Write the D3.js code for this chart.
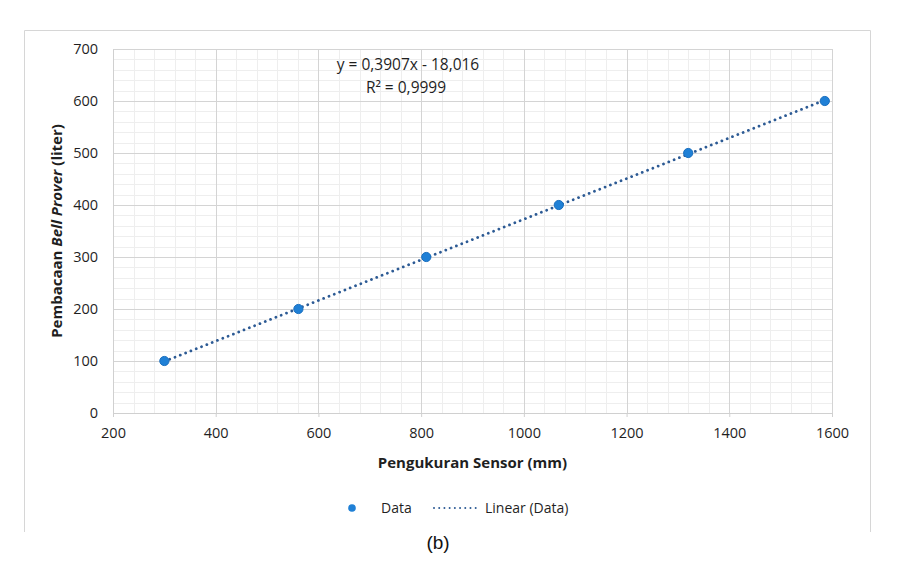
<!DOCTYPE html>
<html>
<head>
<meta charset="utf-8">
<script src="https://cdn.jsdelivr.net/npm/d3@7"></script>
<style>
  body { margin: 0; background: #fff; }
  svg { display: block; font-family: "Open Sans", "Noto Sans", sans-serif; }
</style>
</head>
<body>
<div id="chart"></div>
<script>
// sensor reading (mm) vs bell prover reading (liter)
const sensorMm = [300, 561, 810, 1068, 1320, 1586];
const proverLiter = [100, 200, 300, 400, 500, 600];
const xTicks = [200, 400, 600, 800, 1000, 1200, 1400, 1600];
const yTicks = [0, 100, 200, 300, 400, 500, 600, 700];
const fitSlope = 0.3907;
const fitIntercept = -18.016;
const eqLines = ['y = 0,3907x - 18,016', 'R\u00b2 = 0,9999'];
const legendLabels = ['Data', 'Linear (Data)'];

const width = 904, height = 579;
const margin = { top: 49, right: 72, bottom: 166, left: 113 };
const innerW = width - margin.left - margin.right;
const innerH = height - margin.top - margin.bottom;

const svg = d3.select('#chart').append('svg')
  .attr('width', width)
  .attr('height', height);

// outer chart frame (open at bottom, like the cropped figure)
svg.append('path')
  .attr('d', 'M24.5,532 V30.5 H870.5 V532')
  .attr('fill', 'none')
  .attr('stroke', '#d6d6d6')
  .attr('stroke-width', 1);

const x = d3.scaleLinear().domain([200, 1600]).range([0, innerW]);
const y = d3.scaleLinear().domain([0, 700]).range([innerH, 0]);

const g = svg.append('g')
  .attr('transform', `translate(${margin.left},${margin.top})`);

// minor grid
g.append('g').selectAll('line')
  .data(d3.range(200, 1601, 40))
  .join('line')
  .attr('x1', d => Math.round(x(d)) + 0.5).attr('x2', d => Math.round(x(d)) + 0.5)
  .attr('y1', 0).attr('y2', innerH)
  .attr('stroke', '#eeeeee');
g.append('g').selectAll('line')
  .data(d3.range(0, 701, 20))
  .join('line')
  .attr('y1', d => Math.round(y(d)) + 0.5).attr('y2', d => Math.round(y(d)) + 0.5)
  .attr('x1', 0).attr('x2', innerW)
  .attr('stroke', '#eeeeee');

// major grid
g.append('g').selectAll('line')
  .data(xTicks)
  .join('line')
  .attr('x1', d => Math.round(x(d)) + 0.5).attr('x2', d => Math.round(x(d)) + 0.5)
  .attr('y1', 0).attr('y2', innerH)
  .attr('stroke', '#d4d4d4');
g.append('g').selectAll('line')
  .data(yTicks)
  .join('line')
  .attr('y1', d => Math.round(y(d)) + 0.5).attr('y2', d => Math.round(y(d)) + 0.5)
  .attr('x1', 0).attr('x2', innerW)
  .attr('stroke', '#d4d4d4');

// axes
const xAxis = d3.axisBottom(x).tickValues(xTicks).tickFormat(d3.format('d')).tickSize(4).tickPadding(11);
const yAxis = d3.axisLeft(y).tickValues(yTicks).tickFormat(d3.format('d')).tickSize(0).tickPadding(15);

const xAxisG = g.append('g')
  .attr('transform', `translate(0,${innerH})`)
  .call(xAxis);
const yAxisG = g.append('g').call(yAxis);

[xAxisG, yAxisG].forEach(a => {
  a.select('.domain').attr('stroke', '#d0d0d0');
  a.selectAll('.tick line').attr('stroke', '#d0d0d0');
  a.selectAll('.tick text')
    .attr('font-family', '"Open Sans", sans-serif')
    .attr('font-size', 14.5)
    .attr('fill', '#1f1f1f');
});

// trendline (linear fit over data range)
const xExt = d3.extent(sensorMm);
const fitPts = xExt.map(v => [v, fitSlope * v + fitIntercept]);
g.append('path')
  .datum(fitPts)
  .attr('d', d3.line().x(d => x(d[0])).y(d => y(d[1])))
  .attr('fill', 'none')
  .attr('stroke', '#2c5a94')
  .attr('stroke-width', 2.8)
  .attr('stroke-linecap', 'round')
  .attr('stroke-dasharray', '0.01 5.7');

// data points
g.selectAll('.pt')
  .data(sensorMm.map((v, i) => ({ x: v, y: proverLiter[i] })))
  .join('circle')
  .attr('class', 'pt')
  .attr('cx', d => x(d.x))
  .attr('cy', d => y(d.y))
  .attr('r', 4.6)
  .attr('fill', '#1f80d6')
  .attr('stroke', '#1a6fbf')
  .attr('stroke-width', 1);

// equation label
const eq = g.append('text')
  .attr('text-anchor', 'middle')
  .attr('font-size', 15.5)
  .attr('fill', '#1f1f1f');
eq.append('tspan').attr('x', 295).attr('y', 21).text(eqLines[0]);
eq.append('tspan').attr('x', 293).attr('y', 44).text(eqLines[1]);

// axis titles
g.append('text')
  .attr('x', innerW / 2)
  .attr('y', innerH + 55)
  .attr('text-anchor', 'middle')
  .attr('font-size', 15)
  .attr('font-weight', 'bold')
  .attr('fill', '#1f1f1f')
  .text('Pengukuran Sensor (mm)');

const yTitle = g.append('text')
  .attr('transform', `translate(-51,${innerH / 2}) rotate(-90)`)
  .attr('text-anchor', 'middle')
  .attr('font-size', 15)
  .attr('font-weight', 'bold')
  .attr('fill', '#1f1f1f');
yTitle.append('tspan').text('Pembacaan ');
yTitle.append('tspan').attr('font-style', 'italic').text('Bell Prover');
yTitle.append('tspan').text(' (liter)');

// legend
const lg = svg.append('g').attr('transform', 'translate(0,508)');
lg.append('circle')
  .attr('cx', 352).attr('cy', 0).attr('r', 3.8)
  .attr('fill', '#1f80d6');
lg.append('text')
  .attr('x', 381).attr('y', 5)
  .attr('font-size', 14).attr('fill', '#1f1f1f')
  .text(legendLabels[0]);
lg.append('line')
  .attr('x1', 434).attr('x2', 476)
  .attr('y1', 0).attr('y2', 0)
  .attr('stroke', '#2c5a94')
  .attr('stroke-width', 2)
  .attr('stroke-linecap', 'round')
  .attr('stroke-dasharray', '0.01 5.2');
lg.append('text')
  .attr('x', 485).attr('y', 5)
  .attr('font-size', 14).attr('fill', '#1f1f1f')
  .text(legendLabels[1]);

// panel caption
svg.append('text')
  .attr('x', 438).attr('y', 549)
  .attr('text-anchor', 'middle')
  .attr('font-family', '"Liberation Sans", Arial, sans-serif')
  .attr('font-size', 19)
  .attr('fill', '#111')
  .text('(b)');
</script>
</body>
</html>
